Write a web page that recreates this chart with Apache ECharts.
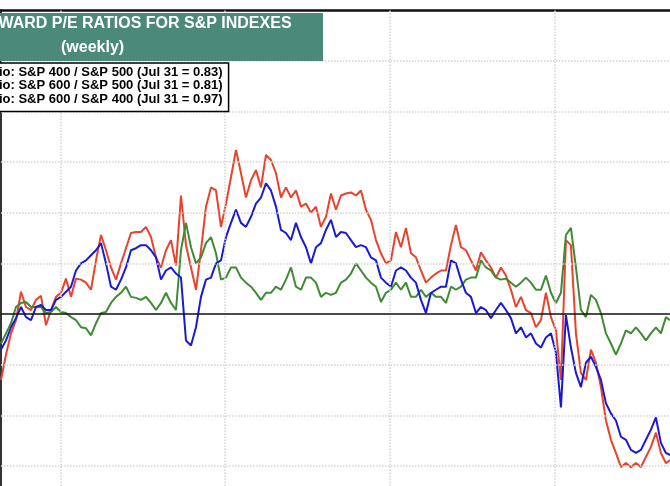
<!DOCTYPE html>
<html>
<head>
<meta charset="utf-8">
<title>Forward P/E ratios for S&P indexes</title>
<script src="https://cdn.jsdelivr.net/npm/echarts@6.0.0/dist/echarts.min.js"></script>
<style>
  html, body { margin: 0; padding: 0; background: #fff; }
  #chart { width: 670px; height: 486px; }
</style>
</head>
<body>
<div id="chart"></div>
<script>
// series names (legend text)
var nameMid = 'Ratio: S&P 400 / S&P 500 (Jul 31 = 0.83)';
var nameSmall = 'Ratio: S&P 600 / S&P 500 (Jul 31 = 0.81)';
var nameSmallMid = 'Ratio: S&P 600 / S&P 400 (Jul 31 = 0.97)';

// grid lines: years across, ratio levels up
var yearLines = [2005, 2010, 2015, 2020];
var ratioLines = [0.85, 0.90, 0.95, 1.05, 1.10, 1.15, 1.20, 1.25];

// S&P 400 / S&P 500 (red)
var ratioMid = [
  0.935, 0.960, 0.981, 0.994, 1.022, 1.007, 1.004, 1.014, 1.018, 0.989,
  1.004, 1.017, 1.021, 1.035, 1.017, 1.035, 1.034, 1.031, 1.024, 1.053,
  1.078, 1.063, 1.046, 1.034, 1.050, 1.065, 1.080, 1.081, 1.081, 1.086,
  1.076, 1.056, 1.046, 1.063, 1.073, 1.048, 1.117, 1.068, 1.046, 1.024,
  1.063, 1.106, 1.125, 1.122, 1.086, 1.109, 1.135, 1.162, 1.139, 1.115,
  1.132, 1.142, 1.125, 1.157, 1.152, 1.139, 1.115, 1.125, 1.115, 1.122,
  1.106, 1.109, 1.100, 1.106, 1.086, 1.096, 1.119, 1.103, 1.117, 1.119,
  1.120, 1.117, 1.122, 1.103, 1.093, 1.073, 1.060, 1.050, 1.053, 1.081,
  1.066, 1.085, 1.060, 1.056, 1.043, 1.031, 1.036, 1.040, 1.043, 1.043,
  1.068, 1.088, 1.066, 1.063, 1.053, 1.043, 1.061, 1.053, 1.046, 1.036,
  1.046, 1.038, 1.024, 1.007, 1.017, 1.004, 1.001, 0.987, 0.994, 1.021,
  0.997, 0.984, 0.935, 1.073, 1.068, 0.981, 0.942, 0.935, 0.965, 0.952,
  0.928, 0.895, 0.876, 0.863, 0.849, 0.853, 0.849, 0.853, 0.849, 0.859,
  0.869, 0.883, 0.863, 0.853, 0.856
];

// S&P 600 / S&P 500 (blue)
var ratioSmall = [
  0.965, 0.974, 0.987, 0.996, 1.007, 0.997, 0.994, 1.007, 1.009, 1.004,
  1.004, 1.014, 1.017, 1.022, 1.027, 1.043, 1.050, 1.053, 1.058, 1.063,
  1.070, 1.050, 1.027, 1.024, 1.034, 1.046, 1.063, 1.065, 1.068, 1.068,
  1.063, 1.056, 1.034, 1.043, 1.046, 1.040, 1.036, 0.974, 0.969, 0.987,
  1.017, 1.034, 1.036, 1.050, 1.053, 1.076, 1.090, 1.103, 1.090, 1.086,
  1.096, 1.109, 1.115, 1.129, 1.122, 1.106, 1.083, 1.080, 1.073, 1.090,
  1.076, 1.066, 1.050, 1.066, 1.070, 1.083, 1.093, 1.076, 1.081, 1.080,
  1.073, 1.066, 1.068, 1.066, 1.056, 1.053, 1.036, 1.031, 1.027, 1.043,
  1.046, 1.043, 1.036, 1.031, 1.014, 1.001, 1.021, 1.024, 1.027, 1.027,
  1.053, 1.050, 1.034, 1.021, 1.017, 1.001, 1.007, 1.004, 0.996, 1.004,
  1.011, 1.004, 0.996, 0.981, 0.987, 0.977, 0.981, 0.971, 0.967, 0.977,
  0.981, 0.962, 0.908, 0.999, 0.967, 0.942, 0.928, 0.952, 0.958, 0.948,
  0.935, 0.912, 0.902, 0.895, 0.879, 0.876, 0.866, 0.863, 0.866, 0.876,
  0.886, 0.898, 0.873, 0.863, 0.861
];

// S&P 600 / S&P 400 (green)
var ratioSmallMid = [
  0.971, 0.981, 0.991, 1.007, 1.011, 1.012, 1.007, 1.007, 1.007, 1.001,
  1.002, 1.007, 1.002, 1.001, 0.997, 0.994, 0.987, 0.986, 0.979, 0.991,
  1.001, 1.002, 1.011, 1.017, 1.021, 1.027, 1.017, 1.016, 1.014, 1.017,
  1.011, 1.004, 1.011, 1.021, 1.011, 1.004, 1.063, 1.090, 1.066, 1.050,
  1.056, 1.070, 1.076, 1.060, 1.034, 1.036, 1.046, 1.046, 1.036, 1.031,
  1.027, 1.021, 1.014, 1.021, 1.021, 1.027, 1.024, 1.034, 1.046, 1.027,
  1.024, 1.036, 1.036, 1.031, 1.017, 1.021, 1.019, 1.021, 1.031, 1.034,
  1.040, 1.050, 1.043, 1.036, 1.031, 1.027, 1.012, 1.021, 1.024, 1.031,
  1.024, 1.031, 1.017, 1.017, 1.024, 1.017, 1.021, 1.017, 1.017, 1.011,
  1.027, 1.024, 1.027, 1.034, 1.036, 1.036, 1.053, 1.046, 1.043, 1.036,
  1.034, 1.035, 1.031, 1.027, 1.031, 1.036, 1.031, 1.024, 1.024, 1.038,
  1.021, 1.011, 1.021, 1.078, 1.085, 1.046, 1.004, 0.997, 1.019, 1.014,
  1.001, 0.981, 0.971, 0.960, 0.971, 0.984, 0.981, 0.987, 0.981, 0.974,
  0.981, 0.987, 0.981, 0.997, 0.994
];

// sample dates as decimal years (about every 8 weeks, last one = end of data)
var firstYear = 2003.2;
var lastYear = 2023.5;
var years = ratioMid.map(function (v, i) {
  return i < ratioMid.length - 1 ? firstYear + i * 5 / 32.96 : lastYear;
});

function pairs(values) {
  return values.map(function (v, i) { return [years[i], v]; });
}

var font = 'Liberation Sans, Arial, sans-serif';
var gridStyle = { color: '#d4d4d4', type: 'dotted', width: 1.5 };

var chart = echarts.init(document.getElementById('chart'), null, { renderer: 'canvas' });

var option = {
  animation: false,
  backgroundColor: '#fff',
  // the picture is cut at the bottom, so the axis stops just above 0.83
  grid: { left: 1, top: 10, width: 669, height: 476, containLabel: false },
  title: [
    {
      text: 'FORWARD P/E RATIOS FOR S&P INDEXES',
      left: -35, top: 16, padding: 0, z: 8,
      textStyle: { color: '#fff', fontSize: 16, fontWeight: 'bold', fontFamily: font }
    },
    {
      text: '(weekly)',
      left: 61, top: 40, padding: 0, z: 8,
      textStyle: { color: '#fff', fontSize: 16, fontWeight: 'bold', fontFamily: font }
    }
  ],
  graphic: [
    {
      type: 'rect', z: 7, silent: true,
      shape: { x: -40, y: 13, width: 363, height: 48 },
      style: { fill: '#4b8a79' }
    }
  ],
  legend: {
    data: [nameMid, nameSmall, nameSmallMid],
    orient: 'vertical',
    left: -58, top: 63,
    padding: [3, 6, 6, 5],
    itemGap: 0.3,
    itemWidth: 25, itemHeight: 3,
    borderColor: '#000', borderWidth: 1.5,
    backgroundColor: '#fff',
    selectedMode: false,
    z: 8,
    textStyle: { color: '#000', fontSize: 13, fontWeight: 'bold', fontFamily: font, lineHeight: 13 }
  },
  xAxis: {
    type: 'value',
    position: 'top',
    min: firstYear, max: lastYear,
    axisLine: { show: true, lineStyle: { color: '#111', width: 2.5 } },
    axisTick: { show: false },
    axisLabel: { show: false },
    splitLine: { show: false }
  },
  yAxis: {
    type: 'value',
    min: 0.8304, max: 1.30,
    axisLine: { show: true, lineStyle: { color: '#333', width: 2 } },
    axisTick: { show: false },
    axisLabel: { show: false },
    splitLine: { show: false }
  },
  series: [
    {
      // dotted grid under the data
      type: 'line', data: [], z: 1, silent: true,
      markLine: {
        silent: true, symbol: 'none', label: { show: false },
        lineStyle: gridStyle,
        data: yearLines.map(function (y) { return { xAxis: y }; })
          .concat(ratioLines.map(function (r) { return { yAxis: r }; }))
      }
    },
    {
      name: nameMid, type: 'line', data: pairs(ratioMid),
      symbol: 'none', z: 2, color: '#e8432d',
      lineStyle: { width: 2, color: '#e8432d' }, emphasis: { disabled: true }
    },
    {
      name: nameSmallMid, type: 'line', data: pairs(ratioSmallMid),
      symbol: 'none', z: 3, color: '#3f8a33',
      lineStyle: { width: 2, color: '#3f8a33' }, emphasis: { disabled: true }
    },
    {
      name: nameSmall, type: 'line', data: pairs(ratioSmall),
      symbol: 'none', z: 4, color: '#1a1ad6',
      lineStyle: { width: 2, color: '#1a1ad6' }, emphasis: { disabled: true }
    },
    {
      // ratio = 1 line on top
      type: 'line', data: [], z: 5, silent: true,
      markLine: {
        silent: true, symbol: 'none', label: { show: false },
        lineStyle: { color: '#111', type: 'solid', width: 1.5 },
        data: [{ yAxis: 1 }]
      }
    }
  ]
};

chart.setOption(option);
</script>
</body>
</html>
